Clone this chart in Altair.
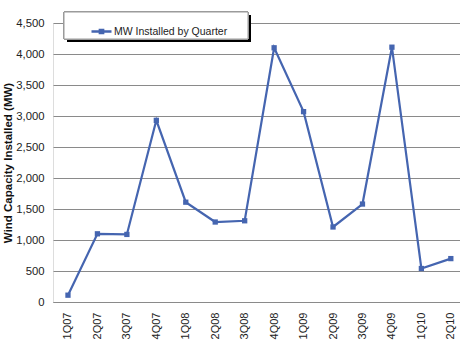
import altair as alt
import pandas as pd

quarters = ["1Q07", "2Q07", "3Q07", "4Q07", "1Q08", "2Q08", "3Q08",
            "4Q08", "1Q09", "2Q09", "3Q09", "4Q09", "1Q10", "2Q10"]
mw = [110, 1100, 1090, 2930, 1610, 1290, 1310,
      4100, 3070, 1210, 1580, 4110, 540, 700]
series_name = "MW Installed by Quarter"
y_ticks = [0, 500, 1000, 1500, 2000, 2500, 3000, 3500, 4000, 4500]

df = pd.DataFrame({"quarter": quarters, "mw": mw, "series": series_name})

BLUE = "#4565B0"
GRID = "#8a8a8a"
FONT = "Liberation Sans"

x = alt.X("quarter:N", sort=quarters,
          scale=alt.Scale(type="point", padding=0.41, align=0.62),
          axis=alt.Axis(title=None, labelAngle=270, labelAlign="right",
                        labelBaseline="middle", labelPadding=10, ticks=False,
                        domain=True, domainColor=GRID, labelFontSize=11,
                        labelColor="#222222", labelFont=FONT, grid=False))
y = alt.Y("mw:Q",
          scale=alt.Scale(domain=[0, 4500], nice=False),
          axis=alt.Axis(title="Wind Capacity Installed (MW)", values=y_ticks,
                        format=",d", ticks=False, domain=False, grid=True,
                        gridColor=GRID, gridWidth=1, labelPadding=9,
                        labelFontSize=11.3, labelColor="#222222", labelFont=FONT,
                        titleFont=FONT, titleFontSize=11.5, titleFontWeight="bold",
                        titleColor="#111111", titlePadding=2))

color = alt.Color("series:N",
                  scale=alt.Scale(domain=[series_name], range=[BLUE]),
                  legend=alt.Legend(title=None, orient="none", legendX=37, legendY=-3,
                                    padding=0, labelFont=FONT, labelFontSize=10.5,
                                    labelColor="#222222", labelOffset=1,
                                    symbolType="M-1,0H1M-0.16,-0.16H0.16V0.16H-0.16Z",
                                    symbolSize=400, symbolStrokeWidth=2.5,
                                    symbolFillColor=BLUE, symbolStrokeColor=BLUE))

line = alt.Chart(df).mark_line(strokeWidth=2.2).encode(x=x, y=y, color=color)
pts = alt.Chart(df).mark_point(shape="square", filled=True, size=28, opacity=1).encode(
    x=x, y=y, color=alt.Color("series:N", scale=alt.Scale(domain=[series_name], range=[BLUE]), legend=None))

shadow = alt.Chart(df).mark_rect(color="#000000").encode(
    x=alt.value(14), x2=alt.value(198), y=alt.value(-8), y2=alt.value(19))
box = alt.Chart(df).mark_rect(fill="#ffffff", stroke="#9a9a9a", strokeWidth=1).encode(
    x=alt.value(11), x2=alt.value(195), y=alt.value(-11), y2=alt.value(16))

chart = alt.layer(line, pts, shadow, box).properties(
    width=407, height=279,
    autosize=alt.AutoSizeParams(type="none"),
    padding={"left": 53, "top": 23, "right": 0, "bottom": 50},
).configure_view(stroke=None).configure(background="#ffffff")

chart.save("out.html", embed_options={"renderer": "svg", "actions": False})
